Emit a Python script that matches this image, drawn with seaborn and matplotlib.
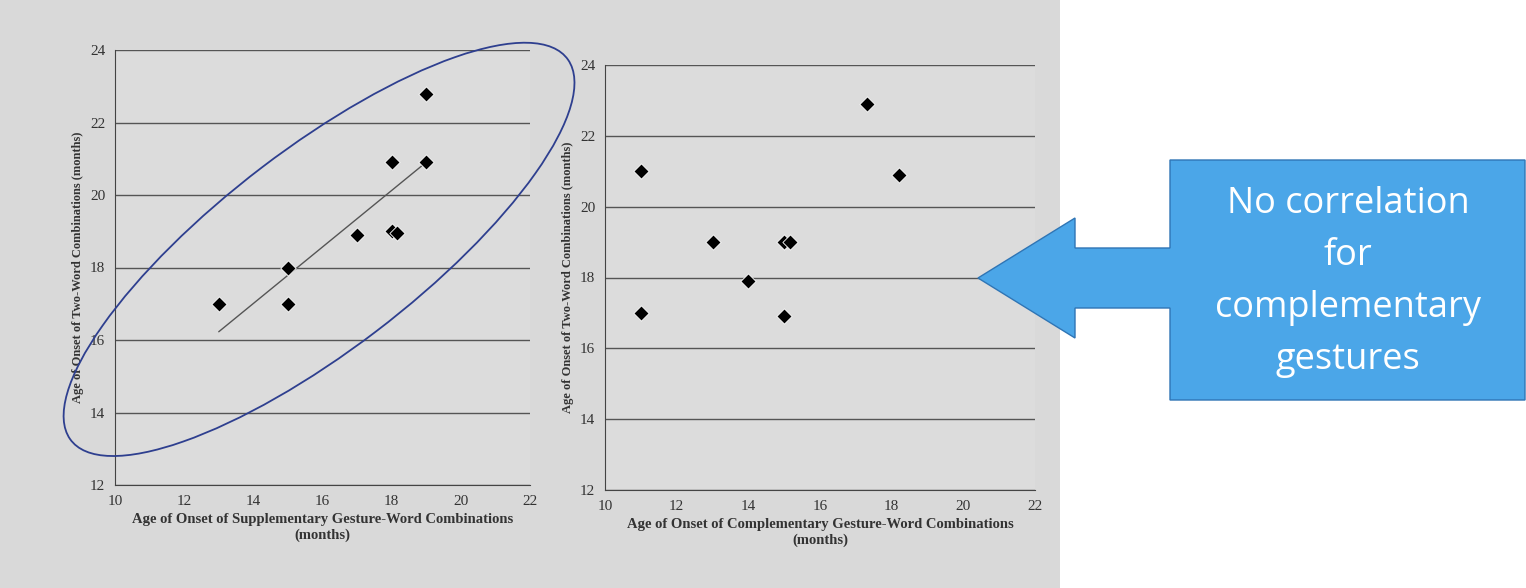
import numpy as np
import matplotlib.pyplot as plt
import seaborn as sns
from matplotlib.patches import Ellipse, Polygon

sns.set_style("white")
plt.rcParams['font.family'] = ['Liberation Serif', 'DejaVu Serif']

# supplementary gesture-word combinations (left)
supp_x = [13, 15, 15, 17, 18, 18, 18.15, 19, 19]
supp_y = [17, 18, 17, 18.9, 20.9, 19, 18.95, 22.8, 20.9]
# complementary gesture-word combinations (right)
comp_x = [11, 11, 13, 14, 15, 15.15, 15, 17.3, 18.2]
comp_y = [21, 17, 19, 17.9, 19, 19, 16.9, 22.9, 20.9]

W, H = 1526, 588
fig = plt.figure(figsize=(W / 100, H / 100), dpi=100)
fig.patch.set_facecolor('white')
bg = fig.add_axes([0, 0, 1060 / W, 1])
bg.set_facecolor('#d9d9d9')
bg.set_xticks([]); bg.set_yticks([])
for s in bg.spines.values():
    s.set_visible(False)

def panel(rect, x, y, xlabel, trend=False):
    ax = fig.add_axes(rect)
    ax.set_facecolor('#dcdcdc')
    sns.scatterplot(x=x, y=y, marker='D', s=60, color='black', ax=ax, zorder=3)
    if trend:
        b, a = np.polyfit(x, y, 1)
        xs = np.array([min(x), max(x)])
        ax.plot(xs, a + b * xs, color='#555555', lw=1)
    ax.set_xlim(10, 22)
    ax.set_ylim(12, 24)
    ax.set_xticks(range(10, 23, 2))
    ax.set_yticks(range(12, 25, 2))
    ax.yaxis.grid(True, color='#555555', lw=1)
    ax.tick_params(labelsize=11, colors='#333333')
    for k in ['top', 'right']:
        ax.spines[k].set_visible(False)
    for k in ['left', 'bottom']:
        ax.spines[k].set_color('#444444')
    ax.set_xlabel(xlabel, fontsize=10.5, fontweight='bold', color='#333333')
    ax.set_ylabel('Age of Onset of Two-Word Combinations (months)', fontsize=9,
                  fontweight='bold', color='#333333')
    return ax

ax1 = panel([115 / W, 103 / H, 415 / W, 435 / H], supp_x, supp_y,
            'Age of Onset of Supplementary Gesture-Word Combinations\n(months)', trend=True)
ax2 = panel([605 / W, 98 / H, 430 / W, 425 / H], comp_x, comp_y,
            'Age of Onset of Complementary Gesture-Word Combinations\n(months)')

ax1.add_patch(Ellipse((15.9, 18.5), 17.8, 5.6, angle=36, fill=False,
                      edgecolor='#2e3f8f', lw=1.3, clip_on=False, zorder=4))

ov = fig.add_axes([0, 0, 1, 1])
ov.set_xlim(0, W); ov.set_ylim(H, 0); ov.axis('off')
ov.add_patch(Polygon([(1525, 160), (1170, 160), (1170, 248), (1075, 248), (1075, 218),
                      (978, 278), (1075, 338), (1075, 308), (1170, 308), (1170, 400),
                      (1525, 400)], closed=True, facecolor='#4ba6e8', edgecolor='#2f75b5', lw=1))
ov.text(1348, 282, 'No correlation\nfor\ncomplementary\ngestures', ha='center', va='center',
        color='white', fontsize=26, family=['Open Sans', 'DejaVu Sans'], linespacing=1.6)

fig.savefig('out.png', dpi=100)
